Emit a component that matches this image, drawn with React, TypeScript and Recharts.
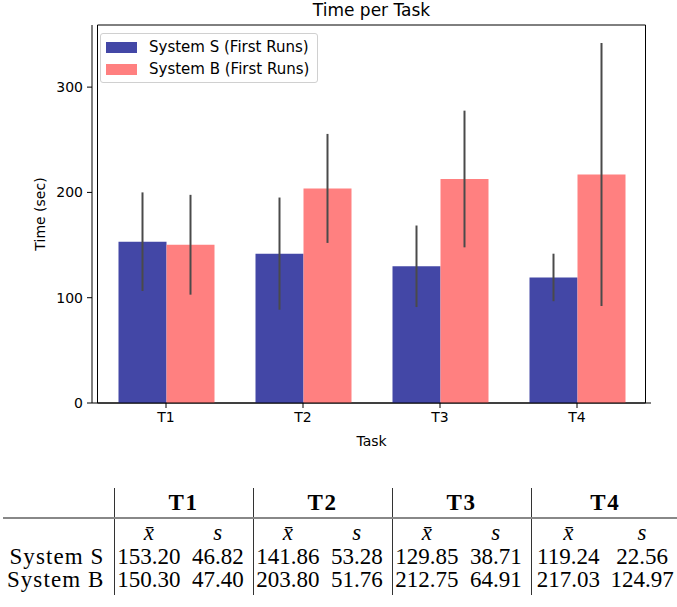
import React from 'react';
import { BarChart, Bar, XAxis, YAxis, ErrorBar, Legend, ReferenceArea, Label } from 'recharts';

const tasks = ['T1', 'T2', 'T3', 'T4'];
const systemSMean = [153.2, 141.86, 129.85, 119.24];
const systemSStd = [46.82, 53.28, 38.71, 22.56];
const systemBMean = [150.3, 203.8, 212.75, 217.03];
const systemBStd = [47.4, 51.76, 64.91, 124.97];
const yTicks = [0, 100, 200, 300];
const seriesNames = ['System S (First Runs)', 'System B (First Runs)'];
const rowNames = ['System S', 'System B'];

const data = tasks.map((task, i) => ({
  task,
  s: systemSMean[i],
  sErr: systemSStd[i],
  b: systemBMean[i],
  bErr: systemBStd[i],
}));

const SANS = '"DejaVu Sans", sans-serif';
const SERIF = '"Liberation Serif", serif';
const BLUE = '#4347a6';
const RED = '#ff8080';
const ERR = '#4a4a4a';

function LegendBox() {
  const colors = [BLUE, RED];
  return (
    <div
      style={{
        position: 'relative',
        width: 216,
        height: 48,
        border: '1px solid #d0d0d0',
        borderRadius: 3,
        background: 'rgba(255,255,255,0.8)',
        fontFamily: SANS,
        fontSize: 15,
        color: '#000',
      }}
    >
      {seriesNames.map((name, i) => (
        <div key={name} style={{ position: 'absolute', left: 5, top: 7 + i * 22, height: 12, display: 'flex', alignItems: 'center' }}>
          <span style={{ display: 'inline-block', width: 31, height: 11, background: colors[i] }} />
          <span style={{ marginLeft: 12, whiteSpace: 'nowrap', lineHeight: '12px' }}>{name}</span>
        </div>
      ))}
    </div>
  );
}

function YLabel(props: any) {
  const vb = props.viewBox;
  const cy = vb.y + vb.height / 2;
  return (
    <text x={40} y={cy} transform={`rotate(-90 40 ${cy})`} textAnchor="middle" dominantBaseline="central" fontSize={14} fill="#000" fontFamily={SANS}>
      Time (sec)
    </text>
  );
}

function XLabel(props: any) {
  const vb = props.viewBox;
  return (
    <text x={vb.x + vb.width / 2} y={vb.y + 38} textAnchor="middle" dominantBaseline="central" fontSize={14} fill="#000" fontFamily={SANS}>
      Task
    </text>
  );
}

const cell = (extra: React.CSSProperties = {}): React.CSSProperties => ({
  padding: 0,
  textAlign: 'center',
  verticalAlign: 'middle',
  whiteSpace: 'nowrap',
  ...extra,
});
const vline = '1.5px solid #333';

function StatsTable() {
  const means = [systemSMean, systemBMean];
  const stds = [systemSStd, systemBStd];
  return (
    <table
      style={{
        position: 'absolute',
        left: 3,
        top: 488,
        borderCollapse: 'collapse',
        tableLayout: 'fixed',
        width: 676,
        fontFamily: SERIF,
        fontSize: 23,
        lineHeight: '23px',
        color: '#000',
      }}
    >
      <colgroup>
        <col style={{ width: 111 }} />
        <col style={{ width: 69 }} />
        <col style={{ width: 70 }} />
        <col style={{ width: 69 }} />
        <col style={{ width: 70 }} />
        <col style={{ width: 69 }} />
        <col style={{ width: 70 }} />
        <col style={{ width: 74 }} />
        <col style={{ width: 74 }} />
      </colgroup>
      <tbody>
        <tr style={{ height: 30 }}>
          <td style={cell({ borderBottom: '2px solid #888' })} />
          {tasks.map((t) => (
            <td
              key={t}
              colSpan={2}
              style={cell({ borderLeft: vline, borderBottom: '2px solid #888', fontWeight: 'bold', letterSpacing: 1.5, paddingBottom: 1 })}
            >
              {t}
            </td>
          ))}
        </tr>
        <tr style={{ height: 27 }}>
          <td style={cell()} />
          {tasks.map((t) => (
            <React.Fragment key={t}>
              <td style={cell({ borderLeft: vline, fontStyle: 'italic' })}>x&#772;</td>
              <td style={cell({ fontStyle: 'italic' })}>s</td>
            </React.Fragment>
          ))}
        </tr>
        {rowNames.map((row, r) => (
          <tr key={row} style={{ height: r === 1 ? 27 : 23 }}>
            <td style={cell({ textAlign: 'right', paddingRight: 9, letterSpacing: 1.1, verticalAlign: 'top' })}>{row}</td>
            {tasks.map((t, i) => (
              <React.Fragment key={t}>
                <td style={cell({ borderLeft: vline, verticalAlign: 'top' })}>{means[r][i].toFixed(2)}</td>
                <td style={cell({ verticalAlign: 'top' })}>{stds[r][i].toFixed(2)}</td>
              </React.Fragment>
            ))}
          </tr>
        ))}
      </tbody>
    </table>
  );
}

export default function App() {
  return (
    <div style={{ position: 'relative', width: 677, height: 607, overflow: 'hidden', background: '#fff' }}>
      <style>{'body{margin:0;}'}</style>
      <div
        style={{
          position: 'absolute',
          left: 92,
          top: 0,
          width: 559,
          textAlign: 'center',
          fontFamily: SANS,
          fontSize: 17,
          lineHeight: '20px',
          color: '#000',
        }}
      >
        Time per Task
      </div>
      <BarChart
        width={677}
        height={460}
        data={data}
        margin={{ top: 25, right: 26, bottom: 0, left: 0 }}
        barGap={0}
        style={{ fontFamily: SANS }}
      >
        <XAxis
          dataKey="task"
          height={57}
          padding={{ left: 5.5, right: 5.5 }}
          tickSize={5}
          tickMargin={4}
          tick={{ fill: '#000', fontSize: 14 }}
          stroke="#000"
          tickLine={{ stroke: '#000' }}
        >
          <Label content={XLabel} />
        </XAxis>
        <YAxis
          width={92}
          domain={[0, 359]}
          ticks={yTicks}
          allowDataOverflow
          tickSize={5}
          tickMargin={4}
          tick={{ fill: '#000', fontSize: 14 }}
          stroke="#000"
          tickLine={{ stroke: '#000' }}
        >
          <Label content={YLabel} />
        </YAxis>
        <Legend
          layout="horizontal"
          verticalAlign="middle"
          align="center"
          width={218}
          height={50}
          wrapperStyle={{ top: 33, left: 100, width: 218, height: 50 }}
          content={<LegendBox />}
        />
        <Bar dataKey="s" name={seriesNames[0]} fill={BLUE} barSize={48} isAnimationActive={false}>
          <ErrorBar dataKey="sErr" width={0} stroke={ERR} strokeWidth={2} direction="y" />
        </Bar>
        <Bar dataKey="b" name={seriesNames[1]} fill={RED} barSize={48} isAnimationActive={false}>
          <ErrorBar dataKey="bErr" width={0} stroke={ERR} strokeWidth={2} direction="y" />
        </Bar>
        <ReferenceArea y1={0} y2={359} fill="none" stroke="#000" strokeWidth={1} ifOverflow="visible" />
      </BarChart>
      <StatsTable />
    </div>
  );
}
